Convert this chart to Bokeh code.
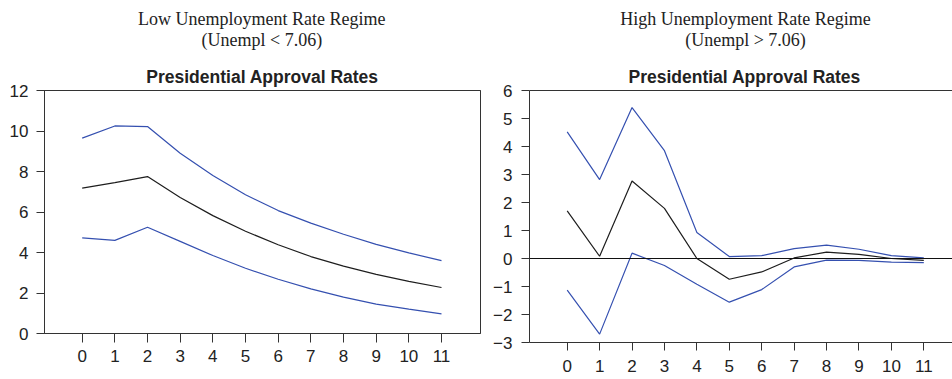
from bokeh.plotting import figure
from bokeh.layouts import row, column
from bokeh.models import Range1d, FixedTicker, LinearAxis, Span, Title
from bokeh.core.properties import value
from bokeh.embed import file_html
from bokeh.resources import INLINE

# ---- data ----
horizon = list(range(12))

low_mid = [7.18, 7.45, 7.75, 6.72, 5.82, 5.05, 4.38, 3.80, 3.33, 2.92, 2.57, 2.27]
low_upper = [9.65, 10.25, 10.22, 8.90, 7.80, 6.85, 6.07, 5.45, 4.90, 4.40, 3.98, 3.60]
low_lower = [4.72, 4.60, 5.25, 4.55, 3.85, 3.22, 2.68, 2.20, 1.80, 1.45, 1.20, 0.97]

high_mid = [1.70, 0.08, 2.77, 1.79, 0.00, -0.74, -0.48, 0.02, 0.23, 0.15, 0.00, -0.07]
high_upper = [4.52, 2.82, 5.39, 3.85, 0.93, 0.07, 0.10, 0.35, 0.48, 0.33, 0.10, 0.02]
high_lower = [-1.13, -2.70, 0.19, -0.25, -0.92, -1.56, -1.11, -0.30, -0.06, -0.07, -0.13, -0.15]

low_yticks = [0, 2, 4, 6, 8, 10, 12]
high_yticks = [-3, -2, -1, 0, 1, 2, 3, 4, 5, 6]

regime_titles = ["Low Unemployment Rate Regime", "High Unemployment Rate Regime"]
regime_subtitles = ["(Unempl < 7.06)", "(Unempl > 7.06)"]
panel_title = "Presidential Approval Rates"

BLUE = "#3550b0"
BLACK = "#1e1e1e"
AX = "#333333"
TXT = "#222222"
SANS = "Liberation Sans"
SERIF = "Liberation Serif"

HEADER_H = 60
CHART_H = 379 - HEADER_H


def style_axes(p, yticks, x_out, x_standoff, y_standoff, title_kw):
    for ax in (p.xaxis[0], p.yaxis[0]):
        ax.axis_line_color = AX
        ax.axis_line_width = 1
        ax.major_tick_line_color = AX
        ax.major_tick_in = 0
        ax.minor_tick_line_color = None
        ax.minor_tick_out = 0
        ax.major_label_text_font = SANS
        ax.major_label_text_font_size = "17px"
        ax.major_label_text_color = TXT
    p.xaxis[0].ticker = FixedTicker(ticks=horizon)
    p.yaxis[0].ticker = FixedTicker(ticks=yticks)
    p.yaxis[0].major_label_overrides = {
        t: (("\u2212" + str(abs(t))) if t < 0 else str(t)) for t in yticks
    }
    p.xaxis[0].major_tick_out = x_out
    p.xaxis[0].major_label_standoff = x_standoff
    p.yaxis[0].major_tick_out = 8
    p.yaxis[0].major_label_standoff = y_standoff
    p.xgrid.visible = False
    p.ygrid.visible = False
    top = LinearAxis(axis_line_color=AX, axis_line_width=1, major_tick_line_color=None,
                     minor_tick_line_color=None, major_tick_out=0, minor_tick_out=0,
                     major_label_standoff=0, major_label_text_font_size="0px",
                     ticker=FixedTicker(ticks=[]))
    p.add_layout(top, "above")
    p.add_layout(Title(text=panel_title, text_font=SANS,
                       text_font_style="bold", text_font_size="17.5px",
                       text_color=TXT, standoff=8, **title_kw), "above")


def header(x_range, width, bl, br, idx, cx):
    h = figure(width=width, height=HEADER_H, output_backend="svg", toolbar_location=None,
               x_range=x_range, y_range=Range1d(0, HEADER_H),
               x_axis_location=None, y_axis_location=None,
               min_border_left=bl, min_border_right=br, min_border_top=0, min_border_bottom=0)
    h.outline_line_color = None
    h.xgrid.visible = False
    h.ygrid.visible = False
    h.text(x=[cx], y=[HEADER_H - 18.7], text=[regime_titles[idx]], text_align="center",
           text_baseline="alphabetic", text_font=value(SERIF), text_font_size="18px",
           text_color=TXT)
    h.text(x=[cx], y=[HEADER_H - 39.3], text=[regime_subtitles[idx]], text_align="center",
           text_baseline="alphabetic", text_font=value(SERIF), text_font_size="18px",
           text_color=TXT)
    return h


# ---- left panel ----
xr1 = Range1d(-1.154, 12.194)
p1 = figure(width=486, height=CHART_H, output_backend="svg", toolbar_location=None,
            x_range=xr1, y_range=Range1d(0, 12),
            min_border_left=44, min_border_right=6, min_border_top=30, min_border_bottom=46)
p1.outline_line_color = AX
p1.outline_line_width = 1
style_axes(p1, low_yticks, 9, 7, 8, dict(align="center"))
p1.line(horizon, low_upper, color=BLUE, line_width=1.2)
p1.line(horizon, low_lower, color=BLUE, line_width=1.2)
p1.line(horizon, low_mid, color=BLACK, line_width=1.2)
h1 = header(xr1, 486, 44, 6, 0, 5.5)

# ---- right panel (its right side is cropped by the window, so the title is offset) ----
xr2 = Range1d(-1.163, 11.885)
p2 = figure(width=466, height=CHART_H, output_backend="svg", toolbar_location=None,
            x_range=xr2, y_range=Range1d(-3, 6),
            min_border_left=43, min_border_right=0, min_border_top=30, min_border_bottom=37)
p2.outline_line_color = None
style_axes(p2, high_yticks, 8, 9, 9, dict(align="left", offset=99))
p2.add_layout(Span(location=0, dimension="width", line_color="#111111", line_width=1))
p2.line(horizon, high_upper, color=BLUE, line_width=1.2)
p2.line(horizon, high_lower, color=BLUE, line_width=1.2)
p2.line(horizon, high_mid, color=BLACK, line_width=1.2)
h2 = header(xr2, 466, 43, 0, 1, 5.5)

layout = row(column(h1, p1), column(h2, p2))
open("out.html", "w").write(file_html(layout, INLINE))
